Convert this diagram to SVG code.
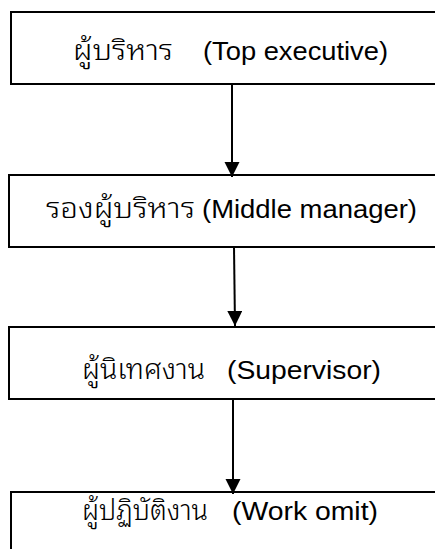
<svg xmlns="http://www.w3.org/2000/svg" width="435" height="549" viewBox="0 0 435 549">
<style>
.box{fill:#fff;stroke:#000;stroke-width:2}
.th{font-family:"Noto Sans Thai Looped","Noto Sans Thai","Liberation Sans","Noto Sans",sans-serif;font-size:29px;font-weight:300;fill:#000}
.en{font-family:"Liberation Sans",Arial,sans-serif;font-size:25.5px;fill:#000}
.con{stroke:#000;stroke-width:2;fill:none}
</style>
<defs>
<marker id="ah" markerUnits="userSpaceOnUse" markerWidth="16" markerHeight="16" refX="15" refY="7.5" orient="auto">
<path d="M0,0 L15,7.5 L0,15 Z" fill="#000"/>
</marker>
</defs>
<rect width="435" height="549" fill="#fff"/>
<g id="n1"><rect class="box" x="11" y="12" width="440" height="72"/>
<text class="th" x="73" y="60" textLength="100" lengthAdjust="spacingAndGlyphs">ผู้บริหาร</text>
<text class="en" x="203" y="60" textLength="185" lengthAdjust="spacingAndGlyphs">(Top executive)</text></g>
<g id="n2"><rect class="box" x="9" y="175" width="440" height="72"/>
<text class="th" x="46" y="218" textLength="149" lengthAdjust="spacingAndGlyphs">รองผู้บริหาร</text>
<text class="en" x="202" y="218" textLength="215" lengthAdjust="spacingAndGlyphs">(Middle manager)</text></g>
<g id="n3"><rect class="box" x="9" y="327" width="440" height="72"/>
<text class="th" x="82" y="379" textLength="123" lengthAdjust="spacingAndGlyphs">ผู้นิเทศงาน</text>
<text class="en" x="227" y="379" textLength="154" lengthAdjust="spacingAndGlyphs">(Supervisor)</text></g>
<g id="n4"><rect class="box" x="11" y="492" width="440" height="72"/>
<text class="th" x="82" y="520" textLength="126" lengthAdjust="spacingAndGlyphs">ผู้ปฏิบัติงาน</text>
<text class="en" x="232" y="520" textLength="146" lengthAdjust="spacingAndGlyphs">(Work omit)</text></g>
<g id="connectors">
<line class="con" x1="232" y1="84" x2="232" y2="177" marker-end="url(#ah)"/>
<line class="con" x1="234" y1="247" x2="235" y2="326" marker-end="url(#ah)"/>
<line class="con" x1="233" y1="399" x2="233" y2="494" marker-end="url(#ah)"/>
</g>
</svg>
